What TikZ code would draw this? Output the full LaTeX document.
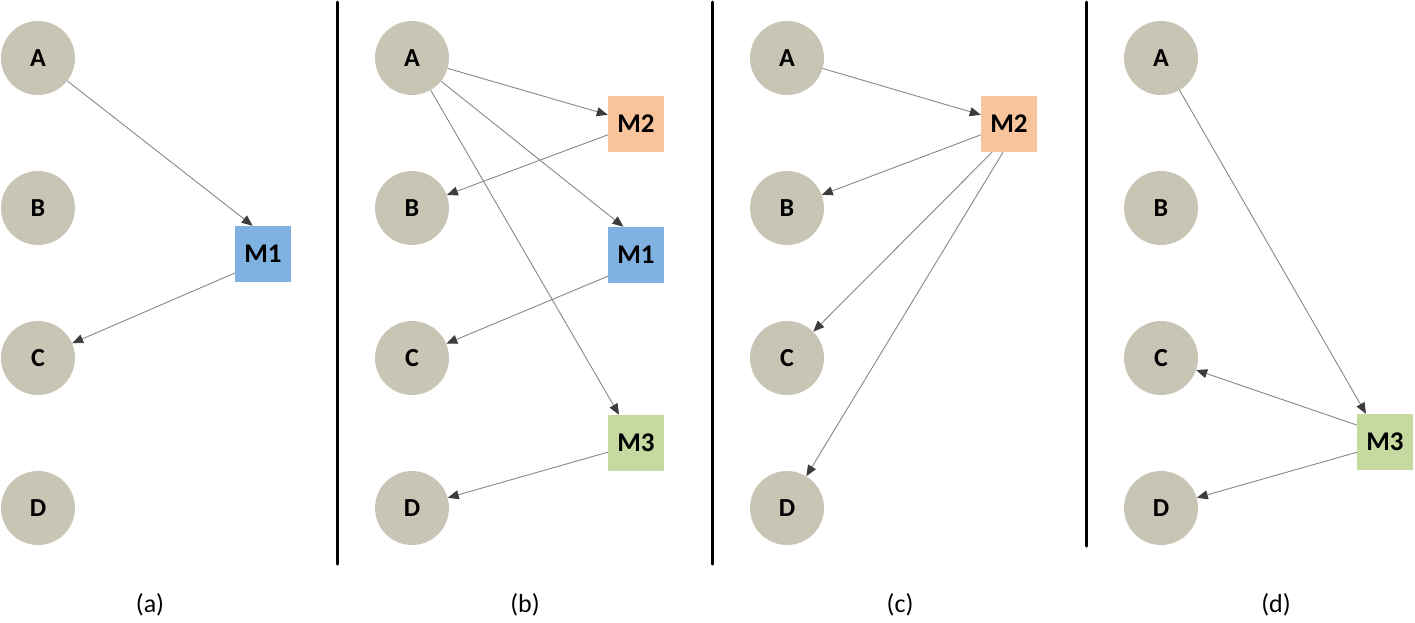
\documentclass[tikz,border=0pt]{standalone}
\usepackage{fontspec}
\setmainfont{Carlito}
\usetikzlibrary{arrows.meta}
\definecolor{circfill}{RGB}{201,197,181}
\definecolor{mblue}{RGB}{127,178,224}
\definecolor{morange}{RGB}{249,196,156}
\definecolor{mgreen}{RGB}{197,217,161}
\definecolor{edgegray}{RGB}{135,135,135}
\definecolor{tipgray}{RGB}{60,60,60}
\tikzset{
  var/.style={circle, fill=circfill, minimum size=74pt, inner sep=0pt, font=\bfseries\fontsize{26}{28}\selectfont},
  mbox/.style={rectangle, minimum size=56pt, inner sep=0pt, font=\bfseries\fontsize{27}{29}\selectfont},
  conn/.style={draw=edgegray, line width=0.9pt, -{Triangle[length=11pt,width=9pt,color=tipgray,fill=tipgray]}},
  divider/.style={line width=3pt, line cap=round},
  caption/.style={font=\fontsize{26}{28}\selectfont}
}
\begin{document}
\begin{tikzpicture}[x=1pt,y=-1pt]
\useasboundingbox (0,0) rectangle (1415,622);
% panel (a)
\node[var] (aA) at (38,58) {A};
\node[var] (aB) at (38,208) {B};
\node[var] (aC) at (38,358) {C};
\node[var] (aD) at (38,508) {D};
\node[mbox, fill=mblue] (aM1) at (263,254) {M1};
\draw[conn] (aA) -- (aM1.110);
\draw[conn] (aM1.214) -- (aC);
\node[caption] (capa) at (150,605) {(a)};
% divider 1
\coordinate (d1t) at (337,2);
\coordinate (d1b) at (337,564);
\draw[divider] (d1t) -- (d1b);
% panel (b)
\node[var] (bA) at (412,58) {A};
\node[var] (bB) at (412,208) {B};
\node[var] (bC) at (412,358) {C};
\node[var] (bD) at (412,508) {D};
\node[mbox, fill=morange] (bM2) at (636,124) {M2};
\node[mbox, fill=mblue] (bM1) at (636,255) {M1};
\node[mbox, fill=mgreen] (bM3) at (636,443) {M3};
\draw[conn] (bA) -- (bM2.162);
\draw[conn] (bM2.201) -- (bB);
\draw[conn] (bA) -- (bM1.114);
\draw[conn] (bM1.217) -- (bC);
\draw[conn] (bA) -- (bM3.121);
\draw[conn] (bM3.198) -- (bD);
\node[caption] (capb) at (525,605) {(b)};
% divider 2
\coordinate (d2t) at (712,2);
\coordinate (d2b) at (712,564);
\draw[divider] (d2t) -- (d2b);
% panel (c)
\node[var] (cA) at (787,58) {A};
\node[var] (cB) at (787,208) {B};
\node[var] (cC) at (787,358) {C};
\node[var] (cD) at (787,508) {D};
\node[mbox, fill=morange] (cM2) at (1009,124) {M2};
\draw[conn] (cA) -- (cM2.162);
\draw[conn] (cM2.201) -- (cB);
\draw[conn] (cM2.239) -- (cC);
\draw[conn] (cM2.258) -- (cD);
\node[caption] (capc) at (900,605) {(c)};
% divider 3
\coordinate (d3t) at (1086,2);
\coordinate (d3b) at (1086,546);
\draw[divider] (d3t) -- (d3b);
% panel (d)
\node[var] (dA) at (1161,58) {A};
\node[var] (dB) at (1161,208) {B};
\node[var] (dC) at (1161,358) {C};
\node[var] (dD) at (1161,508) {D};
\node[mbox, fill=mgreen] (dM3) at (1385,442) {M3};
\draw[conn] (dA) -- (dM3.124);
\draw[conn] (dM3.149) -- (dC);
\draw[conn] (dM3.200) -- (dD);
\node[caption] (capd) at (1276,605) {(d)};
\end{tikzpicture}
\end{document}
